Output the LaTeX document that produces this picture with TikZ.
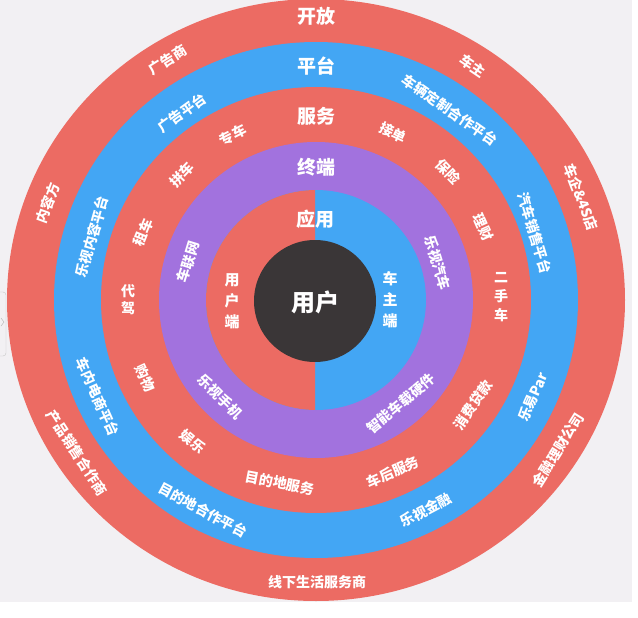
\documentclass[tikz,border=0pt]{standalone}
\usepackage{fontspec}
\setmainfont{Noto Sans CJK SC}
\definecolor{ringred}{HTML}{EC6B63}
\definecolor{ringblue}{HTML}{43A6F4}
\definecolor{ringpurple}{HTML}{A272DE}
\definecolor{corecol}{HTML}{3A3637}
\definecolor{bggray}{HTML}{F2F0F3}
\begin{document}
\begin{tikzpicture}[x=1pt,y=-1pt,
  lbl/.style={text=white,font=\bfseries\fontsize{14}{14}\selectfont,inner sep=0pt},
  ttl/.style={text=white,font=\bfseries\fontsize{19}{19}\selectfont,inner sep=0pt},
  vst/.style={text=white,font=\bfseries\fontsize{15}{21}\selectfont,align=center,inner sep=0pt}]
\useasboundingbox (0,0) rectangle (638,618);
\fill[white] (0,0) rectangle (638,618);
\fill[bggray] (0,0) rectangle (632,602);
\coordinate (c) at (316,300);
% rings
\fill[ringred] (c) ellipse [x radius=309, y radius=301];
\fill[ringblue] (c) ellipse [x radius=262, y radius=258];
\fill[ringred] (c) ellipse [x radius=215, y radius=213];
\fill[ringpurple] (c) ellipse [x radius=157, y radius=158];
\fill[ringblue] (c) circle (110);
\begin{scope}
  \clip (0,0) rectangle (315,618);
  \fill[ringred] (c) circle (110);
\end{scope}
\fill[corecol] (315,301) circle (61);
% left edge artifact
\draw[gray!45, rounded corners=3] (-6,292) rectangle (6,356);
\draw[gray!60] (1,318) -- (4,322) -- (1,326);
% outer ring
\node[ttl] (o1) at (316,16) {开放};
\node[lbl,rotate=32] (o2) at (168,60) {广告商};
\node[lbl,rotate=-34] (o3) at (473,66) {车主};
\node[lbl,rotate=70] (o4) at (48,203) {内容方};
\node[lbl,rotate=-69] (o5) at (581,197) {车企\&4S店};
\node[lbl,rotate=-57] (o6) at (77,453) {产品销售合作商};
\node[lbl] (o7) at (317,582) {线下生活服务商};
\node[lbl,rotate=58] (o8) at (558,450) {金融理财公司};
% blue ring
\node[ttl] (b1) at (316,66) {平台};
\node[lbl,rotate=36] (b2) at (182,113) {广告平台};
\node[lbl,rotate=-35] (b3) at (450,110) {车辆定制合作平台};
\node[lbl,rotate=74] (b4) at (92,237) {乐视内容平台};
\node[lbl,rotate=-73] (b5) at (535,233) {汽车销售平台};
\node[lbl,rotate=-66] (b6) at (98,397) {车内电商平台};
\node[lbl,rotate=-28] (b7) at (203,510) {目的地合作平台};
\node[lbl,rotate=28] (b8) at (426,510) {乐视金融};
\node[lbl,rotate=66] (b9) at (533,397) {乐易Par};
% red ring (services)
\node[ttl] (r1) at (316,116) {服务};
\node[lbl,rotate=27] (r2) at (233,135) {专车};
\node[lbl,rotate=47] (r3) at (182,175) {拼车};
\node[lbl,rotate=68] (r4) at (143,232) {租车};
\node[vst,font=\bfseries\fontsize{14}{17}\selectfont] (r5) at (128,300) {代\\驾};
\node[lbl,rotate=-65] (r6) at (145,378) {购物};
\node[lbl,rotate=-41] (r7) at (193,442) {娱乐};
\node[lbl,rotate=-11] (r8) at (280,483) {目的地服务};
\node[lbl,rotate=24] (r9) at (393,472) {车后服务};
\node[lbl,rotate=56] (r10) at (473,405) {消费贷款};
\node[vst,font=\bfseries\fontsize{14}{19}\selectfont] (r11) at (501,297) {二\\手\\车};
\node[lbl,rotate=-66] (r12) at (483,227) {理财};
\node[lbl,rotate=-46] (r13) at (448,172) {保险};
\node[lbl,rotate=-25] (r14) at (393,133) {接单};
% purple ring
\node[ttl] (p1) at (316,167) {终端};
\node[lbl,rotate=73] (p2) at (188,262) {车联网};
\node[lbl,rotate=-73] (p3) at (438,263) {乐视汽车};
\node[lbl,rotate=-45] (p4) at (220,397) {乐视手机};
\node[lbl,rotate=40] (p5) at (401,403) {智能车载硬件};
% inner
\node[ttl] (i1) at (315,219) {应用};
\node[vst] (i2) at (232,301) {用\\户\\端};
\node[vst] (i3) at (390,300) {车\\主\\端};
\node[text=white,font=\bfseries\fontsize{24}{24}\selectfont,inner sep=0pt] (core) at (315,302) {用户};
\end{tikzpicture}
\end{document}
